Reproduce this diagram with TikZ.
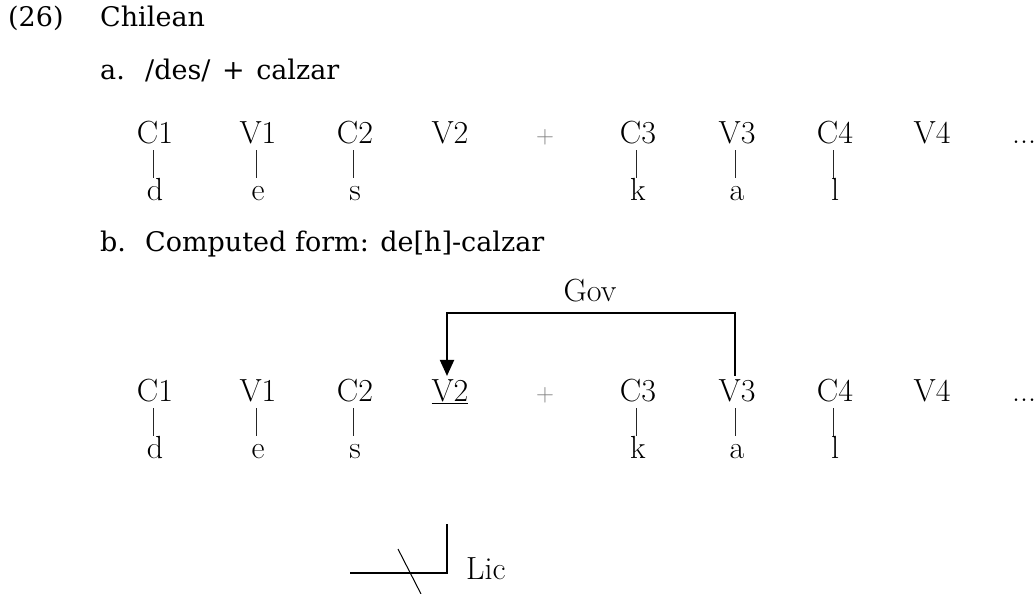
\documentclass[tikz,border=0pt]{standalone}
\usepackage{fontspec}
\newfontfamily\hdr{DejaVu Serif}
\usetikzlibrary{arrows.meta}
\begin{document}
\begin{tikzpicture}[x=1pt,y=-1pt,
  seg/.style={anchor=base, inner sep=0pt, font=\fontsize{32}{38}\selectfont},
  head/.style={anchor=base west, inner sep=0pt, font=\hdr\fontsize{27}{32}\selectfont},
  plus/.style={seg, text=gray},
  link/.style={line width=2pt},
  assoc/.style={line width=0.9pt, black!85},
  tip/.style={-{Triangle[length=16pt,width=14pt]}},
]
\useasboundingbox (0,0) rectangle (1036,594);
% header
\node[head] (n26) at (8,27) {(26)};
\node[head] (chil) at (100,27) {Chilean};
\node[head] (la) at (100,79) {a.};
\node[head] (fa) at (145,79) {/des/\hspace{3pt} +\hspace{3pt} calzar};
\node[head] (lb) at (100,251) {b.};
\node[head] (fb) at (145,251) {Computed form: de[h]-calzar};
% row a
\foreach \n/\x/\t in {c1/155/C1, v1/258/V1, c2/355/C2, v2/450/V2, c3/638/C3, v3/737/V3, c4/835/C4, v4/932/V4}
  \node[seg] (a\n) at (\x,143) {\t};
\node[plus] (aplus) at (545,143) {$+$};
\node[seg] (adots) at (1024,143) {...};
\foreach \n/\x/\t in {c1/155/d, v1/258/e, c2/355/s, c3/638/k, v3/737/a, c4/835/l}{
  \node[seg] (ad\n) at (\x,200) {\t};
  \draw[assoc] ([xshift=-2pt,yshift=-7pt]a\n.base) -- ([xshift=-2pt,yshift=-35pt]a\n.base);
}
% row b
\foreach \n/\x/\t in {c1/155/C1, v1/258/V1, c2/355/C2, c3/638/C3, v3/737/V3, c4/835/C4, v4/932/V4}
  \node[seg] (b\n) at (\x,401) {\t};
\node[seg] (bv2) at (450,401) {\underline{V2}};
\node[plus] (bplus) at (545,401) {$+$};
\node[seg] (bdots) at (1024,401) {...};
\foreach \n/\x/\t in {c1/155/d, v1/258/e, c2/355/s, c3/638/k, v3/737/a, c4/835/l}{
  \node[seg] (bd\n) at (\x,458) {\t};
  \draw[assoc] ([xshift=-2pt,yshift=-7pt]b\n.base) -- ([xshift=-2pt,yshift=-35pt]b\n.base);
}
% Gov
\node[seg] (gov) at (590,301) {Gov};
\coordinate (gr) at (735,313);
\coordinate (gl) at (447,313);
\draw[link,tip] ([yshift=3pt]bv3.north -| gr) -- (gr) -- (gl) -- ([yshift=3pt]bv2.north -| gl);
% Lic
\coordinate (lh) at (350,573);
\coordinate (lc) at (447,573);
\coordinate (lt) at (447,524);
\draw[link] (lh) -- (lc) -- (lt);
\coordinate (s1) at (398,549);
\coordinate (s2) at (421,594);
\draw[line width=1pt] (s1) -- (s2);
\node[seg, anchor=base west] (lic) at (466,579) {Lic};
\end{tikzpicture}
\end{document}
